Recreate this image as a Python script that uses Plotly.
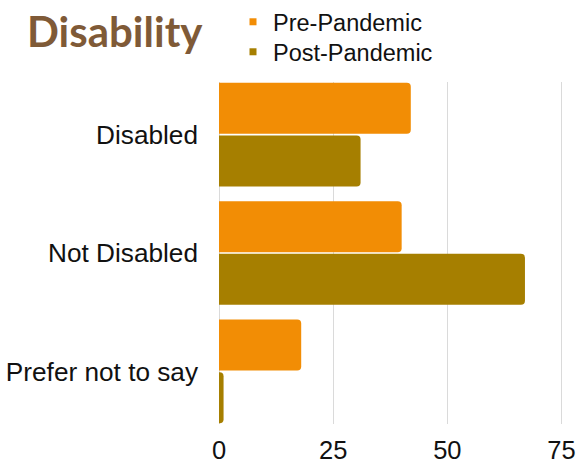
import plotly.graph_objects as go

categories = ["Disabled", "Not Disabled", "Prefer not to say"]
pre_pandemic = [42, 40, 18]
post_pandemic = [31, 67, 1]
series_names = ["Pre-Pandemic", "Post-Pandemic"]
x_ticks = [0, 25, 50, 75]

ORANGE = "#F28D05"
OLIVE = "#A67F00"
TITLE = "#7F5A37"

fig = go.Figure()
fig.add_trace(go.Bar(y=categories, x=pre_pandemic, orientation="h", name=series_names[0],
                     marker=dict(color=ORANGE, line=dict(width=0)), showlegend=False))
fig.add_trace(go.Bar(y=categories, x=post_pandemic, orientation="h", name=series_names[1],
                     marker=dict(color=OLIVE, line=dict(width=0)), showlegend=False))
# legend-only entries with small square markers (on hidden axes, point outside range)
for nm, col, lg in zip(series_names, [ORANGE, OLIVE], ["legend", "legend2"]):
    fig.add_trace(go.Scatter(x=[0], y=[0], mode="markers", name=nm, xaxis="x2", yaxis="y2",
                             hoverinfo="skip", legend=lg,
                             marker=dict(symbol="square", size=7, color=col)))

leg_common = dict(xref="container", yref="container", xanchor="left", yanchor="top",
                  font=dict(size=23.5, color="#111111"), bgcolor="rgba(0,0,0,0)",
                  itemclick=False, itemdoubleclick=False)

fig.update_layout(
    width=577, height=465,
    margin=dict(l=219, r=5, t=82, b=41, autoexpand=False),
    paper_bgcolor="white", plot_bgcolor="white",
    barmode="group", bargap=0.11, bargroupgap=0.03, barcornerradius=4,
    font=dict(family="Liberation Sans, Arial, sans-serif", color="#111111"),
    title=dict(text="<b>Disability</b>", font=dict(family="Lato", size=42, color=TITLE),
               xref="container", yref="container", x=27/577, xanchor="left",
               y=1 - 32/465, yanchor="middle"),
    legend=dict(x=233/577, y=1 - 0/465, **leg_common),
    legend2=dict(x=233/577, y=1 - 30/465, **leg_common),
    xaxis=dict(range=[0, 77.3], tickvals=x_ticks, showgrid=True, gridcolor="#DADADA", gridwidth=1,
               zeroline=True, zerolinecolor="#DADADA", zerolinewidth=1, showline=False,
               ticks="", tickfont=dict(size=25.5), ticklabelstandoff=8, fixedrange=True,
               automargin=False),
    yaxis=dict(type="category", categoryarray=categories, categoryorder="array",
               range=[2.445, -0.445], showgrid=False, zeroline=False, showline=False,
               ticks="", tickfont=dict(size=26.2), ticklabelstandoff=20, fixedrange=True,
               automargin=False),
    xaxis2=dict(overlaying="x", range=[10, 11], visible=False, fixedrange=True),
    yaxis2=dict(overlaying="y", range=[10, 11], visible=False, fixedrange=True),
)

fig.write_html("out.html")
